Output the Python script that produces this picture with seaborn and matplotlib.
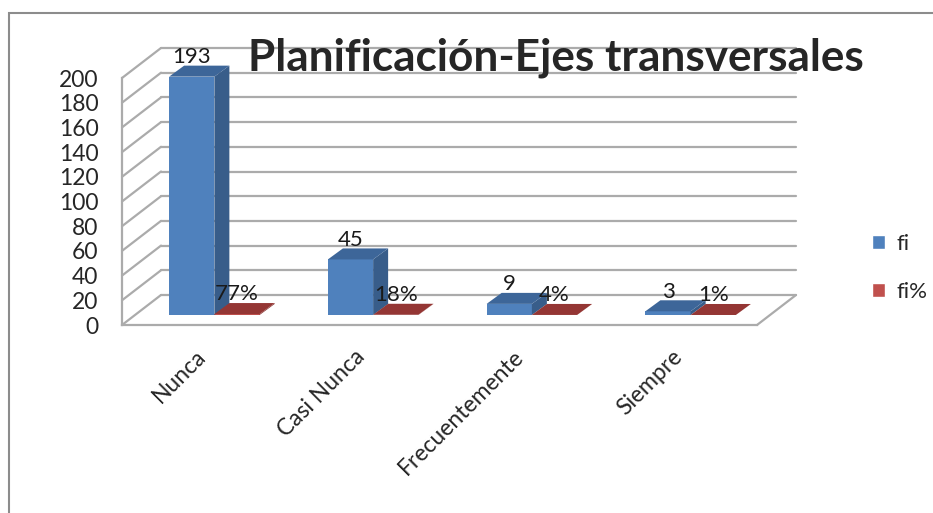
import matplotlib.pyplot as plt
import matplotlib.transforms as mtransforms
import pandas as pd
import seaborn as sns
from matplotlib.patches import Patch, Polygon, Rectangle

categorias = ["Nunca", "Casi Nunca", "Frecuentemente", "Siempre"]
series = ["fi", "fi%"]
fi = [193, 45, 9, 3]
fi_pct = [0.77, 0.18, 0.04, 0.01]
y_ticks = list(range(0, 201, 20))
titulo = "Planificación-Ejes transversales"

AZUL, AZUL_LADO, AZUL_TOPE = "#4F81BD", "#385D8A", "#3D6699"
ROJO, ROJO_LADO, ROJO_TOPE = "#C0504D", "#8C3836", "#943634"
GRIS = "#ABABAB"

sns.set_style("white")
plt.rcParams["font.family"] = ["Lato", "DejaVu Sans"]

df = pd.DataFrame({
    "categoria": categorias * 2,
    "serie": [series[0]] * 4 + [series[1]] * 4,
    "valor": fi + fi_pct,
})

W, H = 933, 513
fig = plt.figure(figsize=(W / 100, H / 100), dpi=100)
# front plane of the 3D box, in pixels
x0_px, x1_px, y0_px, y1_px = 122, 757, 325, 78
ax = fig.add_axes([x0_px / W, 1 - y0_px / H, (x1_px - x0_px) / W, (y0_px - y1_px) / H])

sns.barplot(data=df, x="categoria", y="valor", hue="serie", palette=[AZUL, ROJO],
            width=0.57, saturation=1, legend=False, linewidth=0, edgecolor="none",
            ax=ax, zorder=2)
ax.set_xlim(-0.5, 3.5)
ax.set_ylim(0, 200)

# pixel -> data conversion for the fake depth
ppx = (x1_px - x0_px) / 4
ppy = (y0_px - y1_px) / 200


def off(dx, dy):
    return dx / ppx, dy / ppy


wx, wy = off(39, 30)   # back wall
bx, by = off(13, 10)   # bar front face
dx, dy = off(15, 11)   # bar depth

# back wall and side wall grid
for v in y_ticks:
    ax.plot([-0.5 + wx, 3.5 + wx], [v + wy] * 2, color=GRIS, lw=1.6, clip_on=False, zorder=0)
    ax.plot([-0.5, -0.5 + wx], [v, v + wy], color=GRIS, lw=1.6, clip_on=False, zorder=0)
ax.plot([3.5, 3.5 + wx], [0, wy], color=GRIS, lw=1.6, clip_on=False, zorder=0)

# 3D faces and labels
colores = [(AZUL_LADO, AZUL_TOPE), (ROJO_LADO, ROJO_TOPE)]
for container, serie, (lado, tope) in zip(ax.containers, series, colores):
    for bar in container:
        x, w, h = bar.get_x() + bx, bar.get_width(), bar.get_height()
        bar.set_x(x)
        bar.set_y(by)
        bar.set_clip_on(False)
        top = by + h
        ax.add_patch(Polygon([(x + w, by), (x + w + dx, by + dy), (x + w + dx, top + dy), (x + w, top)],
                             closed=True, facecolor=lado, edgecolor="none", clip_on=False, zorder=2))
        ax.add_patch(Polygon([(x, top), (x + w, top), (x + w + dx, top + dy), (x + dx, top + dy)],
                             closed=True, facecolor=tope, edgecolor="none", clip_on=False, zorder=2))
        texto = f"{h:g}" if serie == "fi" else f"{round(h * 100)}%"
        ax.annotate(texto, (x + w / 2, top + dy), xytext=(0, -1), textcoords="offset points",
                    ha="center", va="bottom", fontsize=16, color="#1a1a1a", zorder=3,
                    annotation_clip=False)

# axes styling
for s in ["top", "right"]:
    ax.spines[s].set_visible(False)
for s in ["left", "bottom"]:
    ax.spines[s].set_color(GRIS)
    ax.spines[s].set_linewidth(1.6)
ax.set_yticks(y_ticks)
ax.tick_params(axis="y", direction="out", length=7, width=1.6, color=GRIS, labelsize=16.5, pad=10)
ax.set_xticks(range(4))
ax.set_xticks([-0.5, 0.5, 1.5, 2.5, 3.5], minor=True)
ax.tick_params(axis="x", which="major", length=0, pad=15, labelsize=16.5)
ax.tick_params(axis="x", which="minor", direction="out", length=7, width=1.6, color=GRIS)
shift = mtransforms.ScaledTranslation(-6 / 100, 0, fig.dpi_scale_trans)
for lbl in ax.get_xticklabels():
    lbl.set_rotation(45)
    lbl.set_ha("right")
    lbl.set_rotation_mode("anchor")
    lbl.set_transform(lbl.get_transform() + shift)
ax.set_xlabel("")
ax.set_ylabel("")
ax.patch.set_alpha(0)

# title and legend
fig.text(248 / W, 1 - 71 / H, titulo, fontsize=31.8, fontweight="bold", ha="left", va="baseline")
handles = [Patch(facecolor=AZUL, label=series[0]), Patch(facecolor=ROJO, label=series[1])]
fig.legend(handles=handles, loc="center left", bbox_to_anchor=(863 / W, 1 - 268 / H), frameon=False,
           borderaxespad=0, fontsize=16, handlelength=0.6, handleheight=0.6, handletextpad=0.5,
           labelspacing=1.25)

# chart border (only top and left visible in the crop)
fig.add_artist(Rectangle((9 / W, -0.1), 1.2, 1.1 - 13 / H, transform=fig.transFigure,
                         fill=False, edgecolor="#8C8C8C", lw=1.5))

fig.savefig("out.png", dpi=100)
